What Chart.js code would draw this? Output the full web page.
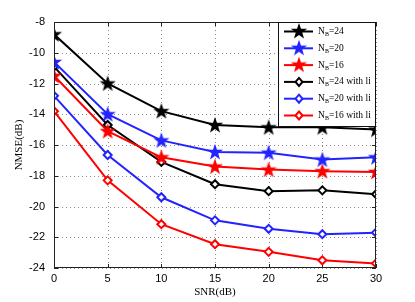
<!DOCTYPE html>
<html>
<head>
<meta charset="utf-8">
<script src="https://cdn.jsdelivr.net/npm/chart.js@4"></script>
<style>
  html, body { margin: 0; padding: 0; background: #fff; }
  #wrap { width: 415px; height: 302px; }
</style>
</head>
<body>
<div id="wrap"><canvas id="graphic" width="415" height="302"></canvas></div>
<script>
// ==========================================================================
// DATA
// ==========================================================================
const snr = [0, 5, 10, 15, 20, 25, 30];
const nb24 = [-8.8, -12.0, -13.8, -14.7, -14.85, -14.85, -15.0];
const nb20 = [-10.6, -14.0, -15.7, -16.45, -16.5, -16.95, -16.8];
const nb16 = [-11.5, -15.1, -16.8, -17.4, -17.6, -17.7, -17.75];
const nb24li = [-10.9, -14.7, -17.1, -18.55, -19.0, -18.95, -19.2];
const nb20li = [-12.8, -16.65, -19.4, -20.9, -21.45, -21.8, -21.7];
const nb16li = [-13.8, -18.3, -21.15, -22.45, -22.95, -23.5, -23.7];
const seriesNames = ['24', '20', '16', '24 with li', '20 with li', '16 with li'];
const xTicks = [0, 5, 10, 15, 20, 25, 30];
const yTicks = [-24, -22, -20, -18, -16, -14, -12, -10, -8];

// ==========================================================================
// MARKERS
// ==========================================================================
function starImg(color){
  const c = document.createElement('canvas');
  c.width = 18; c.height = 18;
  const g = c.getContext('2d');
  g.beginPath();
  for (let i = 0; i < 10; i++) {
    const r = i % 2 === 0 ? 8.5 : 3.4;
    const a = -Math.PI / 2 + i * Math.PI / 5;
    const px = 9 + r * Math.cos(a), py = 9.5 + r * Math.sin(a);
    i === 0 ? g.moveTo(px, py) : g.lineTo(px, py);
  }
  g.closePath();
  g.fillStyle = color;
  g.fill();
  return c;
}

const colors = ['#000000', '#2323ff', '#ff0000', '#000000', '#2323ff', '#ff0000'];
const values = [nb24, nb20, nb16, nb24li, nb20li, nb16li];

const datasets = values.map((v, i) => {
  const star = i < 3;
  return {
    label: 'NB=' + seriesNames[i],
    data: snr.map((x, k) => ({x: x, y: v[k]})),
    borderColor: colors[i],
    backgroundColor: star ? colors[i] : '#ffffff',
    borderWidth: 2,
    pointStyle: star ? starImg(colors[i]) : 'rectRot',
    pointRadius: star ? 8 : 4,
    pointBorderWidth: 2,
    pointBorderColor: colors[i],
    pointBackgroundColor: '#ffffff',
    tension: 0
  };
});

// ==========================================================================
// PLUGINS
// ==========================================================================
const grid = {
  id: 'dotgrid',
  beforeDatasetsDraw(chart){
    const a = chart.chartArea, g = chart.ctx;
    const sx = chart.scales.x, sy = chart.scales.y;
    g.save();
    g.strokeStyle = '#8a8a8a';
    g.lineWidth = 1;
    g.setLineDash([1, 3]);
    xTicks.forEach(v => {
      const px = Math.round(sx.getPixelForValue(v)) + 0.5;
      g.beginPath(); g.moveTo(px, a.top); g.lineTo(px, a.bottom); g.stroke();
    });
    yTicks.forEach(v => {
      const py = Math.round(sy.getPixelForValue(v)) + 0.5;
      g.beginPath(); g.moveTo(a.left, py); g.lineTo(a.right, py); g.stroke();
    });
    g.setLineDash([]);
    g.strokeStyle = '#222';
    xTicks.forEach(v => {
      const px = Math.round(sx.getPixelForValue(v)) + 0.5;
      g.beginPath(); g.moveTo(px, a.bottom); g.lineTo(px, a.bottom - 4); g.stroke();
      g.beginPath(); g.moveTo(px, a.top); g.lineTo(px, a.top + 4); g.stroke();
    });
    yTicks.forEach(v => {
      const py = Math.round(sy.getPixelForValue(v)) + 0.5;
      g.beginPath(); g.moveTo(a.left, py); g.lineTo(a.left + 4, py); g.stroke();
      g.beginPath(); g.moveTo(a.right, py); g.lineTo(a.right - 4, py); g.stroke();
    });
    g.restore();
  }
};

const frame = {
  id: 'frame',
  afterDatasetsDraw(chart){
    const a = chart.chartArea, g = chart.ctx;
    g.save();
    g.strokeStyle = '#222';
    g.lineWidth = 1;
    g.strokeRect(a.left + 0.5, a.top + 0.5, a.right - a.left - 1, a.bottom - a.top - 1);

    // legend box
    const bx = 278, by = a.top, bw = a.right - 278, bh = 105;
    g.fillStyle = '#fff';
    g.fillRect(bx, by, bw, bh);
    g.strokeStyle = '#111';
    g.strokeRect(bx + 0.5, by + 0.5, bw - 1, bh - 1);
    chart.data.datasets.forEach((ds, i) => {
      const yy = by + 9.5 + i * 16.8;
      g.strokeStyle = ds.borderColor;
      g.lineWidth = 2;
      g.beginPath(); g.moveTo(284, yy); g.lineTo(313, yy); g.stroke();
      if (i < 3) {
        g.drawImage(ds.pointStyle, 299 - 9, yy - 9.5);
      } else {
        g.fillStyle = '#fff';
        g.beginPath();
        g.moveTo(299, yy - 4); g.lineTo(302.5, yy); g.lineTo(299, yy + 4); g.lineTo(295.5, yy);
        g.closePath(); g.fill(); g.stroke();
      }
      g.fillStyle = '#000';
      g.textBaseline = 'middle';
      g.font = '9.5px "Liberation Serif", serif';
      g.fillText('N', 318, yy);
      g.font = '6px "Liberation Serif", serif';
      g.fillText('B', 325, yy + 3);
      g.font = '9.5px "Liberation Serif", serif';
      g.fillText('=' + seriesNames[i], 329, yy);
    });
    g.restore();
  }
};

// ==========================================================================
// GRAPHICS
// ==========================================================================
let ctx = document.getElementById('graphic').getContext('2d');
let myChart = new Chart(ctx, {
  type: 'line',
  data: { datasets: datasets },
  plugins: [grid, frame],
  options: {
    responsive: false,
    animation: false,
    layout: { padding: { top: 22, right: 39, left: 0, bottom: 0 } },
    plugins: {
      legend: { display: false },
      tooltip: { enabled: false }
    },
    scales: {
      x: {
        type: 'linear',
        min: 0, max: 30,
        afterBuildTicks: s => { s.ticks = xTicks.map(v => ({value: v})); },
        afterFit: s => { s.height = 34; },
        grid: { display: false, drawTicks: false },
        border: { display: false },
        ticks: {
          color: '#000',
          font: { family: 'Liberation Sans', size: 11 },
          padding: 4
        },
        title: {
          display: true,
          text: 'SNR(dB)',
          color: '#000',
          font: { family: 'Liberation Serif', size: 11 },
          padding: { top: 0, bottom: 3 }
        }
      },
      y: {
        type: 'linear',
        min: -24, max: -8,
        afterBuildTicks: s => { s.ticks = yTicks.map(v => ({value: v})); },
        afterFit: s => { s.width = 54; },
        grid: { display: false, drawTicks: false },
        border: { display: false },
        ticks: {
          color: '#000',
          font: { family: 'Liberation Sans', size: 11 },
          padding: 9
        },
        title: {
          display: true,
          text: 'NMSE(dB)',
          color: '#000',
          font: { family: 'Liberation Serif', size: 11 },
          padding: { top: 13, bottom: 0 }
        }
      }
    }
  }
});
</script>
</body>
</html>
